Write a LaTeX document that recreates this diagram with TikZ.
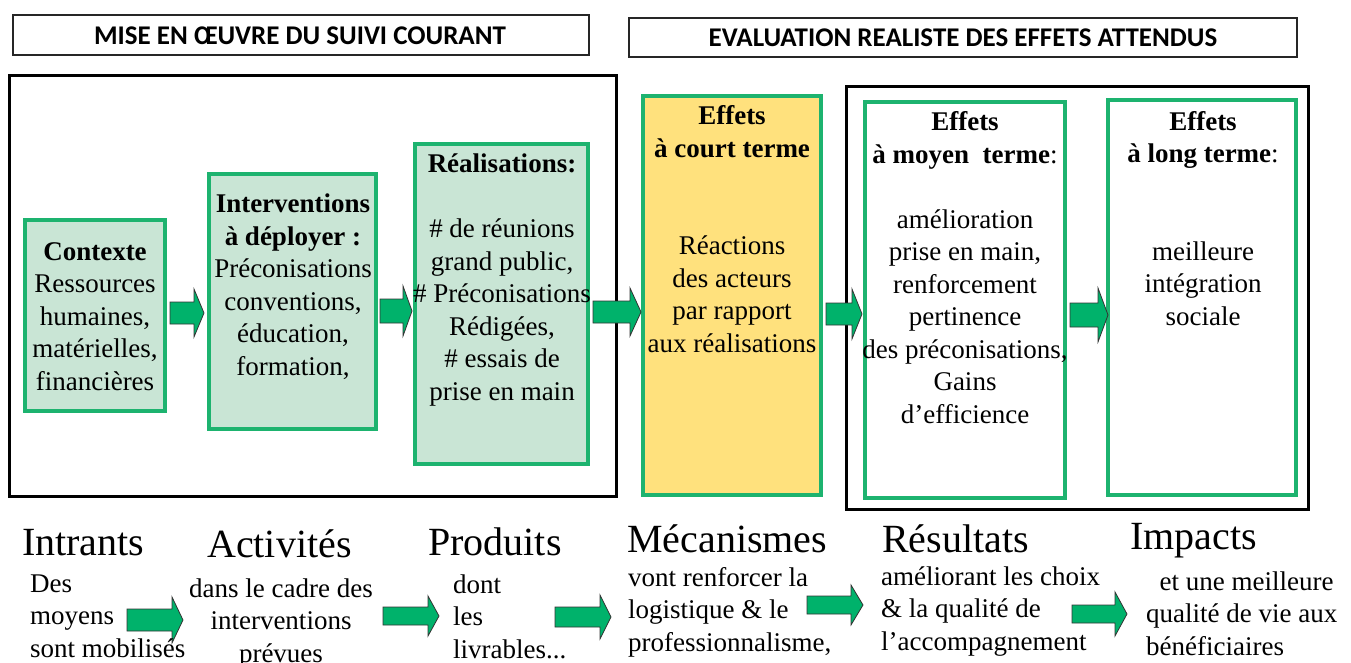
\documentclass[tikz,border=0pt]{standalone}
\usepackage{fontspec}
\setmainfont{Liberation Serif}
\newfontfamily\hdfont{Carlito}
\definecolor{boxgreen}{HTML}{1DB36F}
\definecolor{arrowgreen}{HTML}{00B26B}
\definecolor{palegreen}{HTML}{C9E5D5}
\definecolor{paleyellow}{HTML}{FFE17D}
\tikzset{
  header/.style={draw=black!85, line width=1.6pt},
  headtext/.style={font=\hdfont\bfseries\fontsize{27}{30}\selectfont, inner sep=0pt},
  frame/.style={draw=black, line width=3pt},
  gbox/.style={draw=boxgreen, line width=4pt, fill=palegreen},
  ybox/.style={draw=boxgreen, line width=4pt, fill=paleyellow},
  wbox/.style={draw=boxgreen, line width=4pt, fill=white},
  % multi-line nodes are anchored at the baseline of their last line
  body/.style={font=\fontsize{27}{32.5}\selectfont, align=center, inner sep=0pt, anchor=base},
  biglabel/.style={font=\fontsize{40}{40}\selectfont, inner sep=0pt, anchor=base west},
  small/.style={font=\fontsize{27}{32.3}\selectfont, align=left, inner sep=0pt, anchor=base west},
  barrow/.style={draw=black!80, line width=0.8pt, fill=arrowgreen, line join=miter}
}
% block arrow: start x, tip x, centre y, shaft half-height, head half-height, head length
\newcommand\blockarrow[6]{%
  \draw[barrow] (#1,#3-#4) -- (#2-#6,#3-#4) -- (#2-#6,#3-#5) -- (#2,#3)
    -- (#2-#6,#3+#5) -- (#2-#6,#3+#4) -- (#1,#3+#4) -- cycle;}
\begin{document}
\begin{tikzpicture}[x=1pt,y=-1pt]
\useasboundingbox (0,0) rectangle (1351,663);

% section headers
\draw[header] (13,15) rectangle (589,55);
\node[headtext] (h1) at (300,36) {MISE EN ŒUVRE DU SUIVI COURANT};
\draw[header] (629,18) rectangle (1297,57);
\node[headtext] (h2) at (963,38) {EVALUATION REALISTE DES EFFETS ATTENDUS};

% outer frames
\draw[frame] (9,76) rectangle (616,496);
\draw[frame] (846,87) rectangle (1308,509);

% stage boxes
\draw[gbox] (25,220) rectangle (165,411);
\draw[gbox] (209,174) rectangle (376,429);
\draw[gbox] (415,144) rectangle (588,464);
\draw[ybox] (643,96) rectangle (821,495);
\draw[wbox] (865,102) rectangle (1065,498);
\draw[wbox] (1108,100) rectangle (1296,495);

% flow arrows between the boxes
\blockarrow{170}{204}{313}{11}{24}{10}
\blockarrow{380}{412}{311}{12}{25}{9}
\blockarrow{593}{641}{312}{11}{24}{11}
\blockarrow{826}{862}{314}{11}{25}{10}
\blockarrow{1070}{1108}{315}{12}{27}{10}

% flow arrows of the result chain
\blockarrow{127}{183}{620}{11}{23}{11}
\blockarrow{383}{439}{616}{9}{20}{11}
\blockarrow{555}{611}{617}{10}{22}{11}
\blockarrow{807}{863}{605}{9}{20}{12}
\blockarrow{1072}{1127}{614}{9}{22}{12}

% box contents
\node[body] (t1) at (95,390) {\textbf{Contexte}\\Ressources\\humaines,\\matérielles,\\financières};
\node[body] (t2) at (293,375) {\textbf{Interventions}\\\textbf{à déployer :}\\Préconisations\\conventions,\\éducation,\\formation,};
\node[body] (t3) at (502,400) {\textbf{Réalisations:}\\[32.5pt]\# de réunions\\grand public,\\\# Préconisations\\Rédigées,\\\# essais de\\prise en main};
\node[body] (t4) at (732,352) {\textbf{Effets}\\\textbf{à court terme}\\[65pt]Réactions\\des acteurs\\par rapport\\aux réalisations};
\node[body] (t5) at (965,423) {\textbf{Effets}\\\textbf{à moyen\ \ terme}:\\[32.5pt]amélioration\\prise en main,\\renforcement\\pertinence\\des préconisations,\\Gains\\d’efficience};
\node[body] (t6) at (1203,325) {\textbf{Effets}\\\textbf{à long terme}:\\[65pt]meilleure\\intégration\\sociale};

% result chain labels
\node[biglabel] (l1) at (22,555) {Intrants};
\node[biglabel] (l2) at (207,557) {Activités};
\node[biglabel] (l3) at (428,555) {Produits};
\node[biglabel] (l4) at (627,552) {Mécanismes};
\node[biglabel] (l5) at (882,552) {Résultats};
\node[biglabel] (l6) at (1130,549) {Impacts};

\node[small] (s1) at (30,657) {Des\\moyens\\sont mobilisés};
\node[body, font=\fontsize{27}{32.3}\selectfont] (s2) at (281,662) {dans le cadre des\\interventions\\prévues};
\node[small] (s3) at (453,658) {dont\\les\\livrables...};
\node[small] (s4) at (628,651) {vont renforcer la\\logistique \& le\\professionnalisme,};
\node[small] (s5) at (881,650) {améliorant les choix\\\& la qualité de\\l’accompagnement};
\node[small] (s6) at (1146,655) {\ \ et une meilleure\\qualité de vie aux\\bénéficiaires};
\end{tikzpicture}
\end{document}
